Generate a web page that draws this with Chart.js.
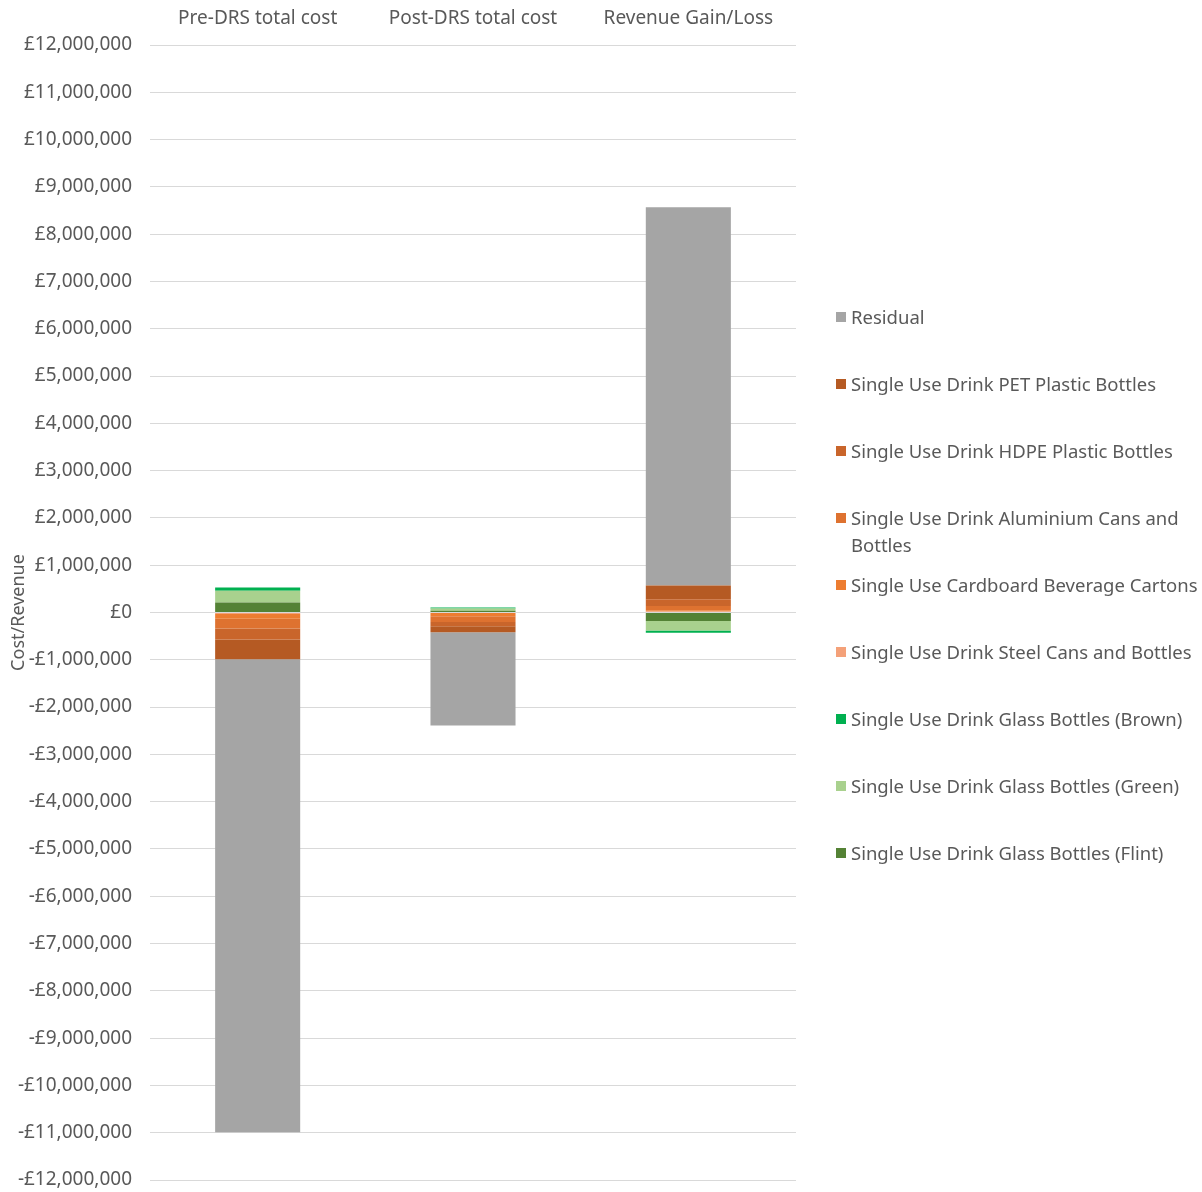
<!DOCTYPE html>
<html>
<head>
<meta charset="utf-8">
<script src="https://cdn.jsdelivr.net/npm/chart.js@4.4.1/dist/chart.umd.min.js"></script>
<style>
  html, body { margin: 0; padding: 0; background: #fff; }
  #wrap { position: relative; width: 1202px; height: 1192px; }
  #legend {
    position: absolute; left: 836px; top: 303px;
    font-family: "Noto Sans", sans-serif; font-size: 18.5px; color: #595959;
  }
  .item { height: 67px; display: flex; align-items: flex-start; }
  .sw { width: 10px; height: 10px; margin-top: 9px; margin-right: 5px; flex: none; }
  .txt { line-height: 27px; white-space: pre-line; }
</style>
</head>
<body>
<div id="wrap">
  <canvas id="chart" width="1202" height="1192"></canvas>
  <div id="legend"></div>
</div>
<script>
// categories shown along the top
const categories = ['Pre-DRS total cost', 'Post-DRS total cost', 'Revenue Gain/Loss'];

// series values (GBP), in stacking order
const flint     = [210000, 35000, -180000];
const green     = [250000, 50000, -200000];
const brown     = [70000, 20000, -50000];
const steel     = [-30000, -10000, 20000];
const cardboard = [-100000, -70000, 30000];
const aluminium = [-210000, -120000, 90000];
const hdpe      = [-230000, -90000, 140000];
const pet       = [-420000, -130000, 290000];
const residual  = [-10000000, -1970000, 8000000];

const seriesNames = [
  'Single Use Drink Glass Bottles (Flint)',
  'Single Use Drink Glass Bottles (Green)',
  'Single Use Drink Glass Bottles (Brown)',
  'Single Use Drink Steel Cans and Bottles',
  'Single Use Cardboard Beverage Cartons',
  'Single Use Drink Aluminium Cans and\nBottles',
  'Single Use Drink HDPE Plastic Bottles',
  'Single Use Drink PET Plastic Bottles',
  'Residual'
];
const seriesValues = [flint, green, brown, steel, cardboard, aluminium, hdpe, pet, residual];
const seriesColors = ['#548235', '#A9D18E', '#00B050', '#F4A179', '#ED7D31',
                      '#DE7230', '#C9652B', '#B55A23', '#A5A5A5'];

// y axis range
const yMin = -12000000;
const yMax = 12000000;
const yStep = 1000000;

const fmt = v => (v < 0 ? '-£' : '£') + Math.abs(v).toLocaleString('en-GB');

const datasets = seriesValues.map((vals, i) => ({
  label: seriesNames[i],
  data: vals,
  backgroundColor: seriesColors[i],
  borderWidth: 0,
  barPercentage: 1,
  categoryPercentage: 0.395
}));

const font = { family: '"Noto Sans", sans-serif', size: 19 };

const chart = new Chart(document.getElementById('chart'), {
  type: 'bar',
  data: { labels: categories, datasets },
  options: {
    responsive: false,
    animation: false,
    layout: { padding: { left: 0, right: 406, top: 0, bottom: 12 } },
    plugins: {
      legend: { display: false },
      tooltip: { enabled: false }
    },
    scales: {
      x: {
        position: 'top',
        stacked: true,
        grid: { display: false },
        border: { display: false },
        ticks: { color: '#595959', font, padding: 7 },
        afterFit: s => { s.height = 45; s.paddingLeft = 0; s.paddingRight = 0; }
      },
      y: {
        stacked: true,
        min: yMin,
        max: yMax,
        ticks: { stepSize: yStep, color: '#595959', font, padding: 18, callback: v => fmt(v) },
        grid: { color: '#D9D9D9', lineWidth: 1, drawTicks: false },
        border: { display: false },
        title: { display: true, text: 'Cost/Revenue', color: '#595959', font: { family: font.family, size: 18 }, padding: { top: 8, bottom: 0 } },
        afterFit: s => { s.width = 150; s.paddingTop = 0; s.paddingBottom = 0; }
      }
    }
  }
});

// legend on the right, reversed like the original
const legend = document.getElementById('legend');
chart.data.datasets.slice().reverse().forEach(ds => {
  const item = document.createElement('div');
  item.className = 'item';
  const sw = document.createElement('span');
  sw.className = 'sw';
  sw.style.background = ds.backgroundColor;
  const txt = document.createElement('span');
  txt.className = 'txt';
  txt.textContent = ds.label;
  item.appendChild(sw);
  item.appendChild(txt);
  legend.appendChild(item);
});
</script>
</body>
</html>
